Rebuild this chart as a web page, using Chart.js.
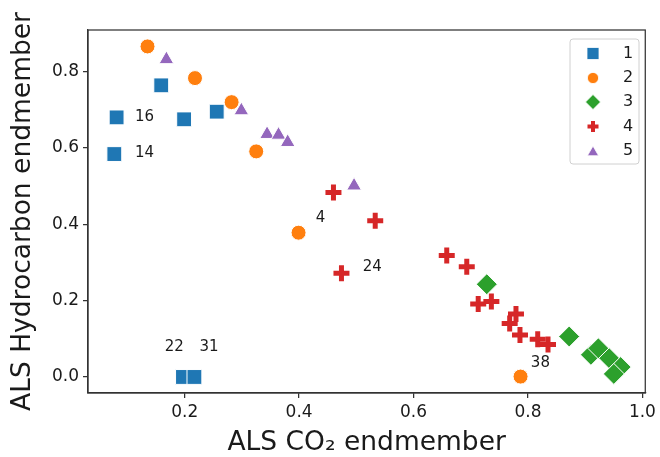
<!DOCTYPE html>
<html>
<head>
<meta charset="utf-8">
<script src="https://cdn.jsdelivr.net/npm/chart.js@4.4.1/dist/chart.umd.min.js"></script>
<style>
  html, body { margin: 0; padding: 0; background: #fff; }
  #wrap { width: 660px; height: 457px; position: relative; }
</style>
</head>
<body>
<div id="wrap"><canvas id="c" width="660" height="457"></canvas></div>
<script>
// ---- data ----
const seriesNames = ['1', '2', '3', '4', '5'];

const s1x = [0.081, 0.077, 0.159, 0.199, 0.256, 0.197, 0.217];
const s1y = [0.680, 0.584, 0.764, 0.675, 0.695, 0.000, 0.000];

const s2x = [0.135, 0.218, 0.282, 0.325, 0.399, 0.787];
const s2y = [0.866, 0.783, 0.720, 0.591, 0.378, 0.001];

const s3x = [0.728, 0.872, 0.910, 0.923, 0.942, 0.962, 0.950];
const s3y = [0.243, 0.106, 0.058, 0.075, 0.049, 0.026, 0.008];

const s4x = [0.460, 0.533, 0.474, 0.658, 0.693, 0.713, 0.736, 0.779, 0.768, 0.786, 0.817, 0.835];
const s4y = [0.483, 0.409, 0.272, 0.318, 0.289, 0.191, 0.198, 0.165, 0.140, 0.110, 0.099, 0.085];

const s5x = [0.168, 0.299, 0.344, 0.364, 0.380, 0.496];
const s5y = [0.832, 0.698, 0.636, 0.634, 0.615, 0.501];

// annotation labels (text, data x of left edge, data y of middle)
const annText = ['16', '14', '22', '31', '4', '24', '38'];
const annX = [0.113, 0.113, 0.165, 0.226, 0.429, 0.511, 0.805];
const annY = [0.681, 0.586, 0.079, 0.079, 0.416, 0.289, 0.037];

const xTicks = [0.2, 0.4, 0.6, 0.8, 1.0];
const xTickLabels = ['0.2', '0.4', '0.6', '0.8', '1.0'];
const yTicks = [0.0, 0.2, 0.4, 0.6, 0.8];
const yTickLabels = ['0.0', '0.2', '0.4', '0.6', '0.8'];

const xTitle = 'ALS CO\u2082 endmember';
const yTitle = 'ALS Hydrocarbon endmember';

// ---- styling ----
const colors = ['#1f77b4', '#ff7f0e', '#2ca02c', '#d62728', '#9467bd'];
const styles = ['rect', 'circle', 'rectRot', 'cross', 'triangle'];
const radii = [10.5, 7.5, 10.5, 8, 8.5];
const legendRadii = [8.5, 5.6, 7.5, 5.5, 6.5];
const FONT = "'DejaVu Sans', 'Liberation Sans', sans-serif";

function pts(xs, ys) { return xs.map((x, i) => ({ x: x, y: ys[i] })); }
const allX = [s1x, s2x, s3x, s4x, s5x];
const allY = [s1y, s2y, s3y, s4y, s5y];

const datasets = seriesNames.map((name, i) => {
  const isCross = styles[i] === 'cross';
  return {
    label: name,
    data: pts(allX[i], allY[i]),
    pointStyle: styles[i],
    pointRadius: radii[i],
    pointHoverRadius: radii[i],
    backgroundColor: colors[i],
    borderColor: isCross ? colors[i] : '#ffffff',
    borderWidth: isCross ? 5 : 1,
    pointBorderWidth: isCross ? 5 : 1,
  };
});

const decorPlugin = {
  id: 'decor',
  afterDatasetsDraw(chart) {
    const ctx = chart.ctx;
    const a = chart.chartArea;
    const xs = chart.scales.x, ys = chart.scales.y;
    ctx.save();
    // frame (top/right spines too)
    ctx.strokeStyle = '#333';
    ctx.lineWidth = 1.25;
    ctx.strokeRect(a.left, a.top, a.right - a.left, a.bottom - a.top);

    // annotations
    ctx.fillStyle = '#1a1a1a';
    ctx.font = '15px ' + FONT;
    ctx.textAlign = 'left';
    ctx.textBaseline = 'middle';
    annText.forEach((t, i) => {
      ctx.fillText(t, xs.getPixelForValue(annX[i]), ys.getPixelForValue(annY[i]));
    });

    // legend box
    const bx = 570, by = 39, bw = 69, bh = 125, r = 3;
    ctx.beginPath();
    ctx.moveTo(bx + r, by);
    ctx.arcTo(bx + bw, by, bx + bw, by + bh, r);
    ctx.arcTo(bx + bw, by + bh, bx, by + bh, r);
    ctx.arcTo(bx, by + bh, bx, by, r);
    ctx.arcTo(bx, by, bx + bw, by, r);
    ctx.closePath();
    ctx.fillStyle = 'rgba(255,255,255,0.85)';
    ctx.fill();
    ctx.strokeStyle = '#d0d0d0';
    ctx.lineWidth = 1;
    ctx.stroke();

    const rowY = [53.5, 78, 102, 126.5, 151];
    seriesNames.forEach((name, i) => {
      const isCross = styles[i] === 'cross';
      ctx.fillStyle = colors[i];
      ctx.strokeStyle = isCross ? colors[i] : '#ffffff';
      ctx.lineWidth = isCross ? 4 : 0.8;
      Chart.helpers.drawPoint(ctx, {
        pointStyle: styles[i],
        radius: legendRadii[i],
        rotation: 0,
        borderWidth: isCross ? 4 : 0.8
      }, 593, rowY[i] + (styles[i] === 'triangle' ? 1.5 : 0));
      ctx.fillStyle = '#1a1a1a';
      ctx.font = '16px ' + FONT;
      ctx.textAlign = 'left';
      ctx.textBaseline = 'middle';
      ctx.fillText(name, 623, rowY[i]);
    });
    ctx.restore();
  }
};

new Chart(document.getElementById('c'), {
  type: 'scatter',
  data: { datasets: datasets },
  options: {
    responsive: false,
    animation: false,
    events: [],
    layout: { padding: { left: 8, top: 30, right: 12, bottom: 0 } },
    plugins: { legend: { display: false }, tooltip: { enabled: false } },
    scales: {
      x: {
        type: 'linear',
        min: 0.031, max: 1.005,
        afterBuildTicks(scale) { scale.ticks = xTicks.map(v => ({ value: v })); },
        afterFit(scale) { scale.height = 64; },
        ticks: {
          callback(v) { const i = xTicks.findIndex(t => Math.abs(t - v) < 1e-9); return i >= 0 ? xTickLabels[i] : ''; },
          font: { family: FONT, size: 17 },
          color: '#1a1a1a',
          padding: 4,
          maxRotation: 0
        },
        grid: { display: true, drawOnChartArea: false, drawTicks: true, tickLength: 5, color: '#333', lineWidth: 1.25 },
        border: { display: true, color: '#333', width: 1.25 },
        title: { display: true, text: xTitle, font: { family: FONT, size: 26.5, lineHeight: 1.05 }, color: '#1a1a1a', padding: 0 }
      },
      y: {
        type: 'linear',
        min: -0.042, max: 0.909,
        afterBuildTicks(scale) { scale.ticks = yTicks.map(v => ({ value: v })); },
        afterFit(scale) { scale.width = 80; },
        ticks: {
          callback(v) { const i = yTicks.findIndex(t => Math.abs(t - v) < 1e-9); return i >= 0 ? yTickLabels[i] : ''; },
          font: { family: FONT, size: 17 },
          color: '#1a1a1a',
          padding: 4
        },
        grid: { display: true, drawOnChartArea: false, drawTicks: true, tickLength: 5, color: '#333', lineWidth: 1.25 },
        border: { display: true, color: '#333', width: 1.25 },
        title: { display: true, text: yTitle, font: { family: FONT, size: 26.5, lineHeight: 1.15 }, color: '#1a1a1a', padding: 0 }
      }
    }
  },
  plugins: [decorPlugin]
});
</script>
</body>
</html>
